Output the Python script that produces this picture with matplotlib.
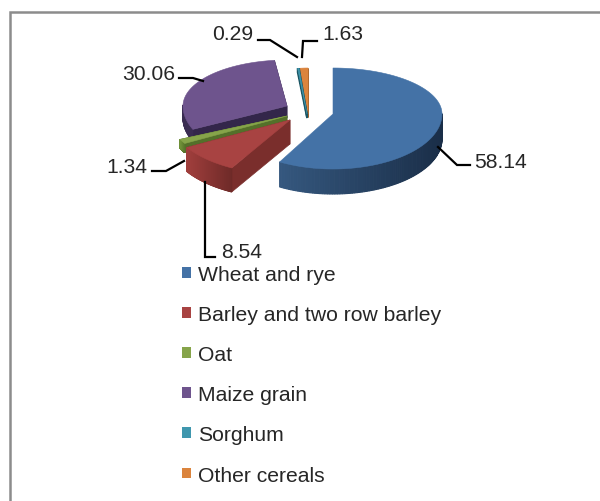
import numpy as np
import matplotlib
matplotlib.use('Agg')
import matplotlib.pyplot as plt
from matplotlib.colors import to_rgb
from matplotlib.patches import Patch, Polygon

categories = ['Wheat and rye', 'Barley and two row barley', 'Oat', 'Maize grain', 'Sorghum', 'Other cereals']
values = [58.14, 8.54, 1.34, 30.06, 0.29, 1.63]
top_colors = ['#4472a6', '#a84342', '#86a44a', '#6e548d', '#3f97ae', '#db843d']
cut_colors = ['#2a4766', '#7a2e2c', '#54702a', '#33264a', '#1c5664', '#a0602a']
wall_left = ['#35587f', '#a03e3c', '#6f9038', '#3a2c52', '#1c5664', '#a0602a']
wall_right = ['#1a2e48', '#6e2a28', '#54702a', '#33264a', '#1c5664', '#a0602a']

# apex of every slice in image pixels (the explosion of the pie)
apex = [(333, 115), (290, 121), (287, 117), (287, 107), (307, 115), (308, 115)]
depth = [25, 24, 9, 12, 4, 3]
radius_x = [109, 119, 118, 104, 78, 78]
ry_back = 46
ry_front = 55


def rim(t, rx):
    t = np.radians(t)
    s = np.sin(t)
    return rx * np.cos(t), -np.where(s > 0, ry_back, ry_front) * s


def slice_angles():
    # clockwise from twelve o'clock
    stops = 90 - np.cumsum([0] + values) * 3.6
    return list(zip(stops[:-1], stops[1:]))


fig = plt.figure(figsize=(6.0, 5.02), dpi=100)
ax = fig.add_axes([0, 0, 1, 1])
ax.set_xlim(0, 600)
ax.set_ylim(502, 0)
ax.axis('off')

# only the top and left of the frame are in the picture
ax.plot([600, 9.5, 9.5], [12.5, 12.5, 502], color='#8c8c8c', lw=1.8, solid_joinstyle='miter')

angles = slice_angles()
# back slices first so the red one sits over the maize one
for i in [3, 5, 4, 0, 2, 1]:
    a0, a1 = angles[i]
    cx, cy = apex[i]
    d = depth[i]
    t = np.linspace(a0, a1, 160)
    x, y = rim(t, radius_x[i])
    x = x + cx
    y = y + cy

    # cut faces
    for (ex, ey) in [(x[0], y[0]), (x[-1], y[-1])]:
        if i == 0:
            continue
        ax.add_patch(Polygon([(cx, cy), (ex, ey), (ex, ey + d), (cx, cy + d)],
                             fc=cut_colors[i], ec=cut_colors[i], lw=0.5 if i != 4 else 1.2, zorder=2))

    # outer wall, only the front part shows, shaded in strips
    lo = np.array(to_rgb(wall_left[i]))
    hi = np.array(to_rgb(wall_right[i]))
    for k in range(len(t) - 1):
        if np.sin(np.radians(t[k])) > 0.02:
            continue
        mix = (x[k] - x.min()) / max(x.max() - x.min(), 1)
        col = lo + (hi - lo) * mix
        ax.add_patch(Polygon([(x[k], y[k]), (x[k + 1], y[k + 1]), (x[k + 1], y[k + 1] + d), (x[k], y[k] + d)],
                             fc=col, ec=col, lw=0.8, zorder=2))

    ax.add_patch(Polygon(np.vstack([[cx, cy], np.column_stack([x, y])]), fc=top_colors[i], ec=top_colors[i],
                         lw=0.4, zorder=2))

# leader lines and value labels
label_pos = [(474, 163), (221, 253), (106, 168), (122, 75), (212, 34), (322, 35)]
leaders = [
    [(438, 148), (457, 166), (470, 166)],
    [(205, 183), (205, 258), (215, 258)],
    [(184, 162), (166, 172), (152, 172)],
    [(203, 82), (193, 79), (179, 79)],
    [(297, 58), (270, 41), (258, 41)],
    [(302, 58), (303, 42), (317, 42)],
]
for i in range(len(values)):
    ax.plot(*zip(*leaders[i]), color='black', lw=1.6, zorder=4, solid_joinstyle='miter')
    ax.text(label_pos[i][0], label_pos[i][1], '%.2f' % values[i], fontsize=15.2, family='Liberation Sans',
            color='#262626', va='center', ha='left', zorder=5)

handles = [Patch(fc=c, ec='none') for c in top_colors]
ax.legend(handles, categories, loc='upper left', bbox_to_anchor=(182 / 600, 1 - 266 / 502), frameon=False,
          prop={'family': 'Liberation Sans', 'size': 15.2}, labelcolor='#262626', handlelength=0.42,
          handleheight=0.42, handletextpad=0.32, labelspacing=1.0, borderpad=0, borderaxespad=0)

fig.savefig('out.png', dpi=100)
